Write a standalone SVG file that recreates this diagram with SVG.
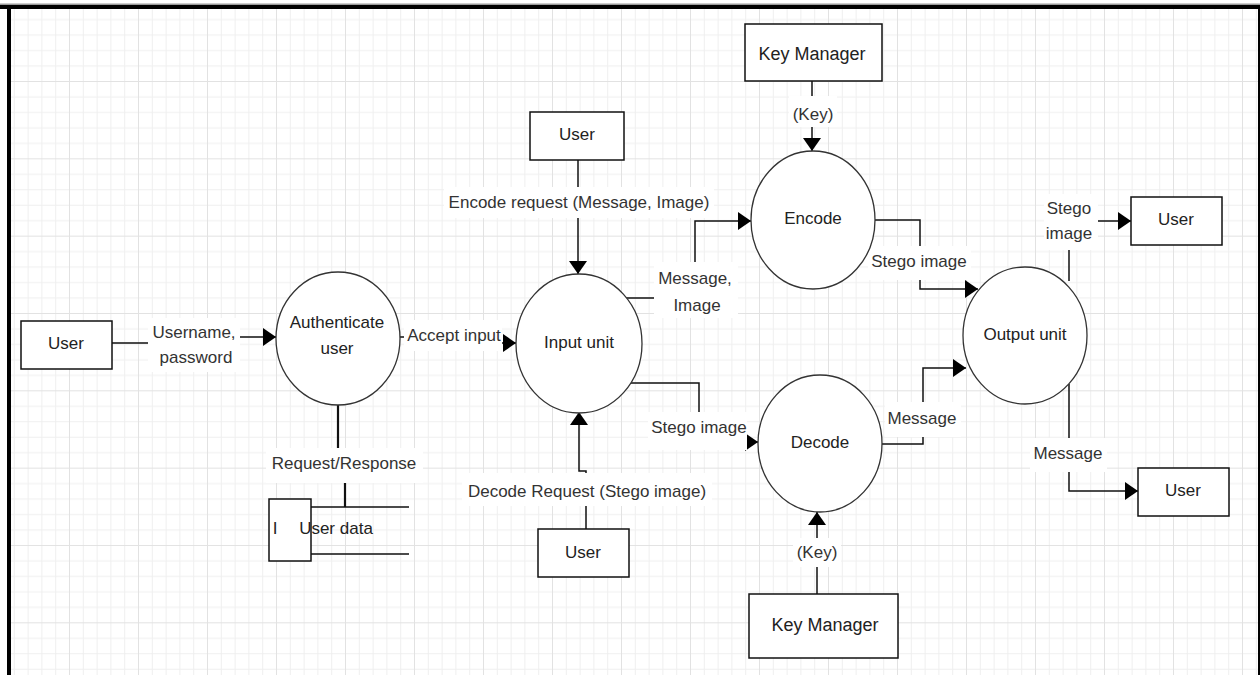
<svg xmlns="http://www.w3.org/2000/svg" width="1260" height="675" viewBox="0 0 1260 675">
<style>
text{font-family:"Liberation Sans",Arial,sans-serif;font-size:17px;fill:#333;text-anchor:middle}
.node text{fill:#222}
.box{fill:#fff;stroke:#111;stroke-width:1.5}
.proc{fill:#fff;stroke:#333;stroke-width:1.3}
.conn{fill:none;stroke:#111;stroke-width:1.5}
.thick{stroke-width:2.2}
.lbg{fill:#fff}
</style>
<defs>
<pattern id="grid" width="69" height="77.33" patternUnits="userSpaceOnUse" x="0" y="3.67">
<rect x="13.8" y="0" width="1" height="77.33" fill="#efefef"/>
<rect x="27.6" y="0" width="1" height="77.33" fill="#efefef"/>
<rect x="41.4" y="0" width="1" height="77.33" fill="#efefef"/>
<rect x="55.2" y="0" width="1" height="77.33" fill="#efefef"/>
<rect x="0" y="15.47" width="69" height="1" fill="#efefef"/>
<rect x="0" y="30.93" width="69" height="1" fill="#efefef"/>
<rect x="0" y="46.4" width="69" height="1" fill="#efefef"/>
<rect x="0" y="61.87" width="69" height="1" fill="#efefef"/>
<rect x="0" y="0" width="1" height="77.33" fill="#e2e2e2"/>
<rect x="0" y="0" width="69" height="1" fill="#e2e2e2"/>
</pattern>
<marker id="arr" markerUnits="userSpaceOnUse" markerWidth="14" markerHeight="18" refX="13" refY="9" orient="auto">
<path d="M0,0 L13,9 L0,18 z" fill="#000"/>
</marker>
</defs>
<rect width="1260" height="675" fill="#fff"/>
<rect x="11" y="9" width="1247" height="666" fill="url(#grid)"/>
<g id="frame">
<rect x="0" y="3.5" width="1260" height="1.5" fill="#9a9a9a"/>
<rect x="0" y="5" width="1260" height="4" fill="#000"/>
<rect x="7" y="5" width="4" height="670" fill="#000"/>
<rect x="1258" y="5" width="2" height="670" fill="#000"/>
</g>
<g id="connectors">
<path class="conn" d="M112,343 H195 V337 H276" marker-end="url(#arr)"/>
<path class="conn" d="M400,337 H455 V343 H516" marker-end="url(#arr)"/>
<path class="conn" d="M578,160 V274" marker-end="url(#arr)"/>
<path class="conn" d="M621,298 H695 V221 H751" marker-end="url(#arr)"/>
<path class="conn" d="M626,383 H699 V442 H758" marker-end="url(#arr)"/>
<path class="conn" d="M882,444 H923 V368 H966" marker-end="url(#arr)"/>
<path class="conn" d="M875,220 H920 V289 H978" marker-end="url(#arr)"/>
<path class="conn" d="M1069,281 V221 H1131" marker-end="url(#arr)"/>
<path class="conn" d="M1069,384 V491 H1138" marker-end="url(#arr)"/>
<path class="conn" d="M812,81 V151" marker-end="url(#arr)"/>
<path class="conn" d="M817,594 V512" marker-end="url(#arr)"/>
<path class="conn" d="M586,529 V471 H579 V412" marker-end="url(#arr)"/>
<path class="conn thick" d="M338,405 V465 H345 V507"/>
</g>
<g id="labels">
<rect class="lbg" x="148" y="318" width="92" height="54"/>
<text x="194" y="338">Username,</text>
<text x="196" y="363">password</text>
<rect class="lbg" x="404" y="320" width="98" height="31"/>
<text x="454" y="341">Accept input</text>
<rect class="lbg" x="444" y="187" width="270" height="31"/>
<text x="579" y="208">Encode request (Message, Image)</text>
<rect class="lbg" x="654" y="262" width="84" height="56"/>
<text x="695" y="284">Message,</text>
<text x="697" y="311">Image</text>
<rect class="lbg" x="648" y="412" width="99" height="38"/>
<text x="699" y="433">Stego image</text>
<rect class="lbg" x="885" y="402" width="76" height="35"/>
<text x="922" y="424">Message</text>
<rect class="lbg" x="868" y="246" width="103" height="34"/>
<text x="919" y="267">Stego image</text>
<rect class="lbg" x="1044" y="194" width="54" height="56"/>
<text x="1069" y="214">Stego</text>
<text x="1069" y="239">image</text>
<rect class="lbg" x="1030" y="438" width="77" height="34"/>
<text x="1068" y="459">Message</text>
<rect class="lbg" x="789" y="96" width="48" height="31"/>
<text x="813" y="120">(Key)</text>
<rect class="lbg" x="793" y="538" width="48" height="29"/>
<text x="817" y="558">(Key)</text>
<rect class="lbg" x="462" y="473" width="250" height="33"/>
<text x="587" y="497">Decode Request (Stego image)</text>
<rect class="lbg" x="266" y="448" width="157" height="35"/>
<text x="344" y="469">Request/Response</text>
</g>
<g id="user-left" class="node">
<rect class="box" x="21" y="321" width="91" height="48"/>
<text x="66" y="349">User</text>
</g>
<g id="authenticate" class="node">
<ellipse class="proc" cx="338" cy="338.5" rx="62" ry="66.5"/>
<text x="337" y="328">Authenticate</text>
<text x="337" y="354">user</text>
</g>
<g id="input-unit" class="node">
<ellipse class="proc" cx="579" cy="343.5" rx="63" ry="69.5"/>
<text x="579" y="348">Input unit</text>
</g>
<g id="encode" class="node">
<ellipse class="proc" cx="813" cy="220" rx="62" ry="69"/>
<text x="813" y="224">Encode</text>
</g>
<g id="decode" class="node">
<ellipse class="proc" cx="820" cy="443.5" rx="62" ry="68.5"/>
<text x="820" y="448">Decode</text>
</g>
<g id="output-unit" class="node">
<ellipse class="proc" cx="1025" cy="335.5" rx="62" ry="68.5"/>
<text x="1025" y="340">Output unit</text>
</g>
<g id="user-top" class="node">
<rect class="box" x="530" y="112" width="94" height="48"/>
<text x="577" y="140">User</text>
</g>
<g id="user-right-top" class="node">
<rect class="box" x="1131" y="197" width="91" height="48"/>
<text x="1176" y="225">User</text>
</g>
<g id="user-right-bottom" class="node">
<rect class="box" x="1138" y="468" width="91" height="48"/>
<text x="1183" y="496">User</text>
</g>
<g id="user-bottom" class="node">
<rect class="box" x="538" y="529" width="91" height="48"/>
<text x="583" y="558">User</text>
</g>
<g id="key-manager-top" class="node">
<rect class="box" x="745" y="24" width="137" height="57"/>
<text x="812" y="60" style="font-size:18px">Key Manager</text>
</g>
<g id="key-manager-bottom" class="node">
<rect class="box" x="749" y="594" width="149" height="64"/>
<text x="825" y="631" style="font-size:18px">Key Manager</text>
</g>
<g id="user-data" class="node">
<rect x="269" y="499" width="42" height="62" fill="#fff" stroke="#111" stroke-width="1.5"/>
<path d="M311,507 H409 M311,554 H409" fill="none" stroke="#111" stroke-width="1.5"/>
<text x="275" y="534">I</text>
<text x="336" y="534">User data</text>
</g>
</svg>
